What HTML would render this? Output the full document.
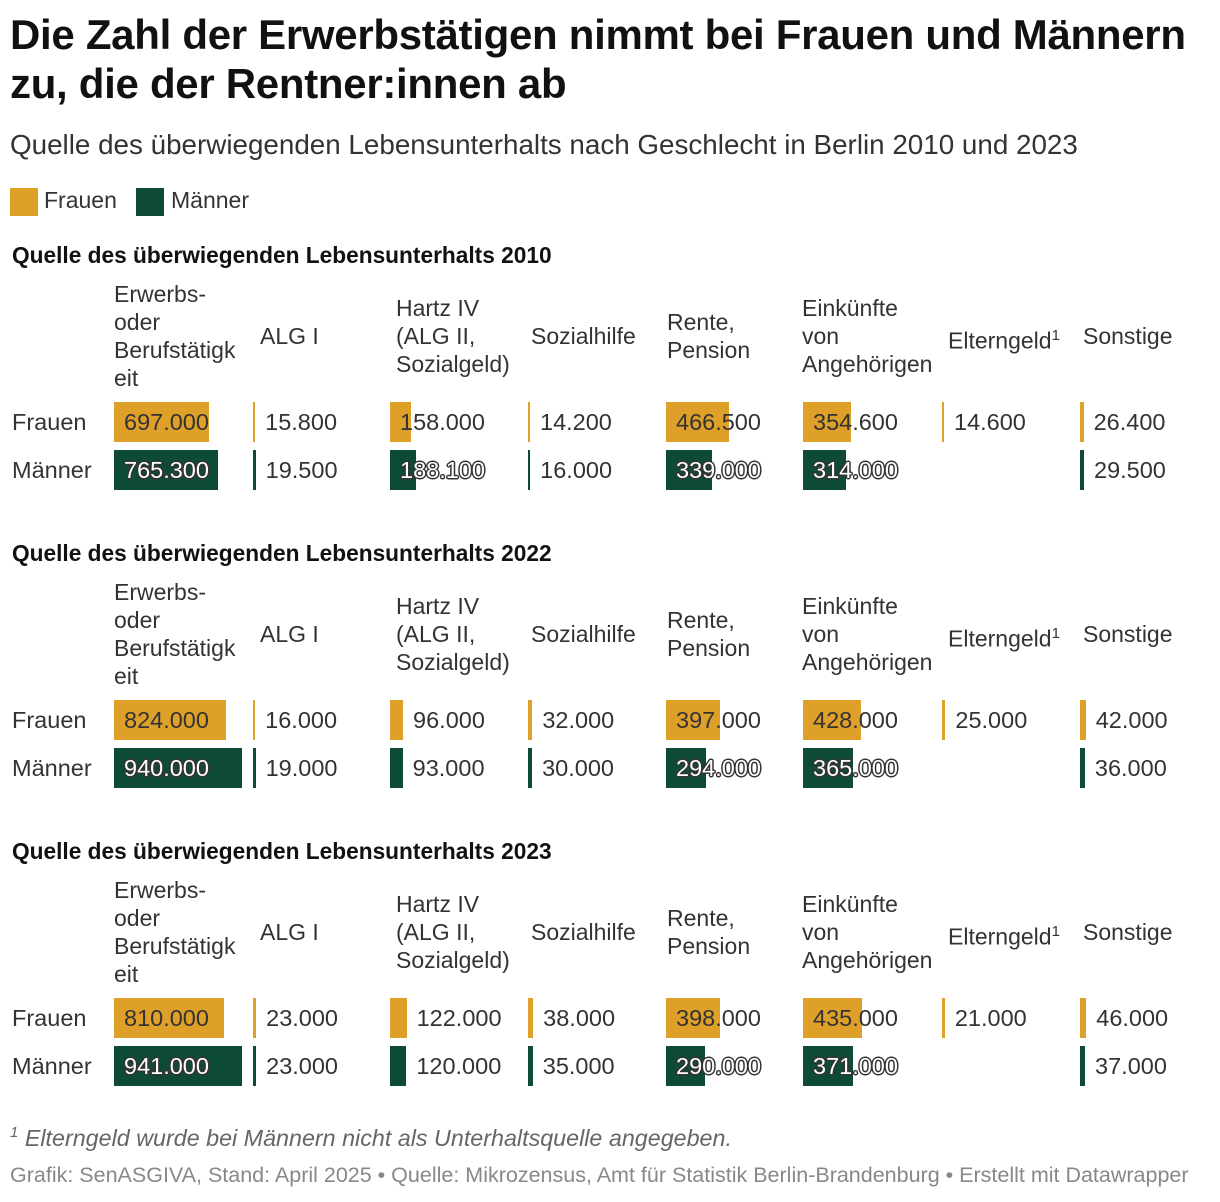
<!DOCTYPE html>
<html><head><meta charset="utf-8">
<style>
body{margin:0;background:#fff;width:1220px;height:1202px;position:relative;overflow:hidden;font-family:"Liberation Sans",sans-serif;color:#333}
.a{position:absolute;white-space:nowrap}
h1{position:absolute;left:10px;top:10px;margin:0;font-size:42px;line-height:49px;font-weight:bold;color:#111;letter-spacing:-0.3px}
.sub{left:10px;top:129px;font-size:27.8px;color:#333}
.sw{position:absolute;width:28px;height:28px}
.leg{font-size:23px;color:#333}
.st{font-size:22.7px;font-weight:bold;color:#111;left:12px}
.hd{font-size:23px;line-height:28px;color:#333;white-space:normal}
.v{font-size:23.5px;line-height:40px;color:#333}
.halo{color:#fff;text-shadow:-1.5px 0 #333,1.5px 0 #333,0 -1.5px #333,0 1.5px #333,-1px -1px #333,1px 1px #333,-1px 1px #333,1px -1px #333}
.bar{position:absolute}
.fn{left:10px;top:1124px;font-size:23.3px;font-style:italic;color:#666}
.src{left:10px;top:1163px;font-size:21.5px;color:#888}
</style></head><body>
<h1>Die Zahl der Erwerbstätigen nimmt bei Frauen und Männern<br>zu, die der Rentner:innen ab</h1>
<div class="a sub">Quelle des überwiegenden Lebensunterhalts nach Geschlecht in Berlin 2010 und 2023</div>
<div class="sw" style="left:10px;top:188px;background:#dfa02a"></div>
<div class="a leg" style="left:44px;top:187px">Frauen</div>
<div class="sw" style="left:136px;top:188px;background:#0e4b37"></div>
<div class="a leg" style="left:171px;top:187px">Männer</div>
<div id="tables"></div>
<div class="a fn"><sup style="font-size:15px">1</sup> Elterngeld wurde bei Männern nicht als Unterhaltsquelle angegeben.</div>
<div class="a src">Grafik: SenASGIVA, Stand: April 2025 • Quelle: Mikrozensus, Amt für Statistik Berlin-Brandenburg • Erstellt mit Datawrapper</div>
<script>
const years=["2010","2022","2023"];
const categories=["Erwerbs-<br>oder<br>Berufstätigk<br>eit","ALG I","Hartz IV<br>(ALG II,<br>Sozialgeld)","Sozialhilfe","Rente,<br>Pension","Einkünfte<br>von<br>Angehörigen","Elterngeld<sup style='font-size:15px'>1</sup>","Sonstige"];
const catLines=[4,1,3,1,2,3,1,1];
const frauen2010=[697000,15800,158000,14200,466500,354600,14600,26400];
const maenner2010=[765300,19500,188100,16000,339000,314000,null,29500];
const frauen2022=[824000,16000,96000,32000,397000,428000,25000,42000];
const maenner2022=[940000,19000,93000,30000,294000,365000,null,36000];
const frauen2023=[810000,23000,122000,38000,398000,435000,21000,46000];
const maenner2023=[941000,23000,120000,35000,290000,371000,null,37000];
const dataF=[frauen2010,frauen2022,frauen2023];
const dataM=[maenner2010,maenner2022,maenner2023];
const colX=[114,253,390,528,666,803,942,1080];
const hdX=[114,260,396,531,667,802,948,1083];
const scale=v=>Math.max(2,v*0.136/1000);
const fmt=v=>v.toLocaleString('de-DE');
const root=document.getElementById('tables');
function add(cls,html,x,y,name,css){const d=document.createElement('div');d.className='a '+cls;d.innerHTML=html;d.style.left=x+'px';d.style.top=y+'px';if(css)d.style.cssText+=css;


root.appendChild(d);return d;}
years.forEach((yr,t)=>{
  const off=t*298;
  add('st','Quelle des überwiegenden Lebensunterhalts '+yr,12,242+off,'section-title-'+yr);
  categories.forEach((c,i)=>{
    const h=catLines[i]*28;
    add('hd',c,hdX[i],336+off-h/2,'column-header-'+yr+'-'+i,'width:135px');
  });
  [['Frauen',dataF[t],'#dfa02a',402],['Männer',dataM[t],'#0e4b37',450]].forEach(([lab,arr,col,y0])=>{
    add('v',lab,12,y0+off,'row-label-'+lab.toLowerCase()+'-'+yr);
    arr.forEach((v,i)=>{
      if(v==null)return;
      const w=scale(v);
      const b=document.createElement('div');b.className='bar';
      b.style.cssText=`left:${colX[i]}px;top:${y0+off}px;width:${w}px;height:40px;background:${col}`;
      
      
      root.appendChild(b);
      const inside=w>=18;
      const x=inside?colX[i]+10:colX[i]+w+10;
      const cls='v'+(inside&&lab==='Männer'?' halo':'');
      add(cls,fmt(v),x,y0+off,'value-'+lab.toLowerCase()+'-'+yr+'-'+i);
    });
  });
});
</script>
</body></html>
